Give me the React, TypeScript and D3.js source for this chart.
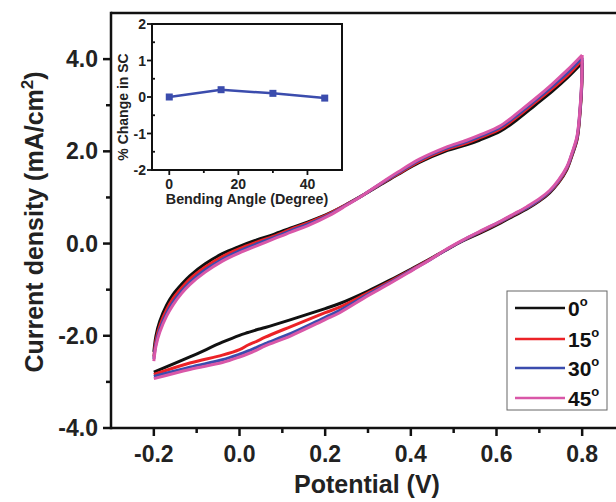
import React from "react";
import * as d3 from "d3";

// potential (V) sample points along each sweep
const anodicV = [-0.2, -0.195, -0.186, -0.17, -0.155, -0.135, -0.116, -0.08, -0.04, 0.0, 0.04, 0.08, 0.12, 0.16, 0.21, 0.25, 0.29, 0.33, 0.37, 0.42, 0.48, 0.53, 0.56, 0.61, 0.65, 0.69, 0.73, 0.765, 0.8];
const cathodicV = [0.8, 0.799, 0.795, 0.788, 0.776, 0.764, 0.745, 0.724, 0.7, 0.671, 0.64, 0.61, 0.56, 0.52, 0.48, 0.445, 0.405, 0.35, 0.3, 0.234, 0.2, 0.12, 0.06, 0.04, 0.02, 0.0, -0.04, -0.116, -0.2];

// current density (mA/cm2) for each bending angle
const anodic0 = [-2.35, -2.0, -1.68, -1.33, -1.1, -0.88, -0.7, -0.44, -0.22, -0.06, 0.08, 0.2, 0.34, 0.47, 0.66, 0.85, 1.06, 1.28, 1.5, 1.76, 2.0, 2.14, 2.24, 2.44, 2.7, 3.0, 3.3, 3.59, 3.92];
const anodic15 = [-2.45, -2.1, -1.78, -1.43, -1.19, -0.96, -0.77, -0.51, -0.28, -0.11, 0.03, 0.16, 0.31, 0.45, 0.65, 0.85, 1.06, 1.29, 1.51, 1.78, 2.03, 2.18, 2.29, 2.49, 2.76, 3.06, 3.36, 3.64, 3.98];
const anodic30 = [-2.5, -2.17, -1.86, -1.51, -1.27, -1.03, -0.84, -0.57, -0.34, -0.16, -0.01, 0.13, 0.28, 0.42, 0.63, 0.84, 1.06, 1.3, 1.53, 1.81, 2.06, 2.21, 2.32, 2.53, 2.8, 3.1, 3.41, 3.7, 4.03];
const anodic45 = [-2.55, -2.22, -1.92, -1.57, -1.33, -1.08, -0.89, -0.62, -0.38, -0.2, -0.05, 0.1, 0.25, 0.39, 0.61, 0.83, 1.06, 1.31, 1.55, 1.83, 2.08, 2.24, 2.35, 2.56, 2.84, 3.14, 3.46, 3.76, 4.09];

const cathodic0 = [3.92, 3.4, 2.83, 2.25, 1.9, 1.6, 1.32, 1.1, 0.92, 0.75, 0.6, 0.45, 0.22, 0.05, -0.15, -0.33, -0.53, -0.8, -1.03, -1.3, -1.41, -1.65, -1.82, -1.87, -1.93, -1.99, -2.14, -2.46, -2.79];
const cathodic15 = [3.98, 3.45, 2.86, 2.27, 1.92, 1.62, 1.34, 1.12, 0.94, 0.77, 0.62, 0.47, 0.24, 0.06, -0.15, -0.34, -0.55, -0.83, -1.07, -1.38, -1.5, -1.8, -2.03, -2.12, -2.2, -2.3, -2.42, -2.59, -2.84];
const cathodic30 = [4.03, 3.5, 2.9, 2.3, 1.94, 1.64, 1.36, 1.13, 0.95, 0.78, 0.63, 0.48, 0.25, 0.06, -0.15, -0.35, -0.56, -0.85, -1.1, -1.45, -1.6, -1.95, -2.17, -2.25, -2.33, -2.4, -2.52, -2.68, -2.88];
const cathodic45 = [4.09, 3.55, 2.93, 2.33, 1.96, 1.66, 1.38, 1.15, 0.97, 0.8, 0.64, 0.49, 0.26, 0.07, -0.14, -0.35, -0.57, -0.87, -1.13, -1.5, -1.65, -2.0, -2.22, -2.31, -2.39, -2.46, -2.58, -2.73, -2.93];

const angles = ["0", "15", "30", "45"];
const colors = ["#111111", "#ec2227", "#3b4cad", "#d957a8"];
const anodic = [anodic0, anodic15, anodic30, anodic45];
const cathodic = [cathodic0, cathodic15, cathodic30, cathodic45];

// main axis ticks
const xMajor = [-0.2, 0, 0.2, 0.4, 0.6, 0.8];
const xMinor = [-0.1, 0.1, 0.3, 0.5, 0.7];
const yMajor = [-4, -2, 0, 2, 4];
const yMinor = [-3, -1, 1, 3];

// inset data
const insetAngle = [0, 15, 30, 45];
const insetChange = [0, 0.2, 0.1, -0.03];
const insetXMajor = [0, 20, 40];
const insetXMinor = [10, 30];
const insetYMajor = [-2, -1, 0, 1, 2];
const insetYMinor = [-1.5, -0.5, 0.5, 1.5];

const font = "'Liberation Sans', Arial, sans-serif";

export default function App() {
  const x = d3.scaleLinear().domain([-0.3, 0.9]).range([111, 625]);
  const y = d3.scaleLinear().domain([-4, 5]).range([428, 13]);

  const ix = d3.scaleLinear().domain([-5, 50]).range([152, 342]);
  const iy = d3.scaleLinear().domain([-2, 2]).range([170, 24]);

  const line = d3
    .line<[number, number]>()
    .x((d) => x(d[0]))
    .y((d) => y(d[1]))
    .curve(d3.curveCatmullRom.alpha(0.5));

  const insetLine = d3
    .line<number>()
    .x((_, i) => ix(insetAngle[i]))
    .y((d) => iy(d));

  const fmt = (t: number) => t.toFixed(1);
  const legendY = [308, 339, 368, 398];

  return (
    <svg
      width={616}
      height={502}
      style={{ position: "absolute", left: 0, top: 0, background: "#fff" }}
      fontFamily={font}
      fontWeight="bold"
    >
      <rect width={616} height={502} fill="#fff" />

      {/* curves */}
      {angles.map((a, k) => (
        <g key={a} fill="none" stroke={colors[k]} strokeWidth={3} strokeLinejoin="round">
          <path d={line(anodicV.map((v, i) => [v, anodic[k][i]]))!} />
          <path d={line(cathodicV.map((v, i) => [v, cathodic[k][i]]))!} />
        </g>
      ))}

      {/* main frame */}
      <g stroke="#111" strokeWidth={2.5} fill="none">
        <line x1={x(-0.3)} x2={x(0.9)} y1={y(-4)} y2={y(-4)} />
        <line x1={x(-0.3)} x2={x(0.9)} y1={y(5)} y2={y(5)} />
        <line x1={x(-0.3)} x2={x(-0.3)} y1={y(-4) + 1.25} y2={y(5) - 1.25} />
      </g>

      {/* ticks */}
      <g stroke="#111" strokeWidth={2.5}>
        {xMajor.map((t) => (
          <line key={t} x1={x(t)} x2={x(t)} y1={y(-4)} y2={y(-4) + 8} />
        ))}
        {xMinor.map((t) => (
          <line key={t} x1={x(t)} x2={x(t)} y1={y(-4)} y2={y(-4) + 5} />
        ))}
        {yMajor.map((t) => (
          <line key={t} x1={x(-0.3)} x2={x(-0.3) - 8} y1={y(t)} y2={y(t)} />
        ))}
        {yMinor.map((t) => (
          <line key={t} x1={x(-0.3)} x2={x(-0.3) - 5} y1={y(t)} y2={y(t)} />
        ))}
      </g>
      <g fontSize={23} fill="#222">
        {xMajor.map((t) => (
          <text key={t} x={x(t)} y={462} textAnchor="middle">
            {fmt(t)}
          </text>
        ))}
        {yMajor.map((t) => (
          <text key={t} x={98} y={y(t) + 8} textAnchor="end">
            {fmt(t)}
          </text>
        ))}
      </g>

      {/* axis titles */}
      <text x={367} y={493} textAnchor="middle" fontSize={25} fill="#222">
        Potential (V)
      </text>
      <text
        transform={`translate(43,${222}) rotate(-90)`}
        textAnchor="middle"
        fontSize={25}
        fill="#222"
      >
        Current density (mA/cm
        <tspan fontSize={17} dy={-10}>2</tspan>
        <tspan dy={10}>)</tspan>
      </text>

      {/* legend */}
      <rect x={507} y={291} width={100} height={119} fill="#fff" stroke="#666" strokeWidth={1} />
      {angles.map((a, k) => (
        <g key={a}>
          <line x1={515} x2={565} y1={legendY[k]} y2={legendY[k]} stroke={colors[k]} strokeWidth={2.5} />
          <text x={568} y={legendY[k] + 8} fontSize={21} fill="#111">
            {a}
            <tspan fontSize={13} dy={-10}>o</tspan>
          </text>
        </g>
      ))}

      {/* inset */}
      <rect x={152} y={24} width={190} height={146} fill="#fff" stroke="#111" strokeWidth={2} />
      <g stroke="#111" strokeWidth={1.8}>
        {insetXMajor.map((t) => (
          <line key={t} x1={ix(t)} x2={ix(t)} y1={170} y2={175} />
        ))}
        {insetXMinor.map((t) => (
          <line key={t} x1={ix(t)} x2={ix(t)} y1={170} y2={173} />
        ))}
        {insetYMajor.map((t) => (
          <line key={t} x1={152} x2={147} y1={iy(t)} y2={iy(t)} />
        ))}
        {insetYMinor.map((t) => (
          <line key={t} x1={152} x2={155} y1={iy(t)} y2={iy(t)} />
        ))}
      </g>
      <g fontSize={14} fill="#222">
        {insetXMajor.map((t) => (
          <text key={t} x={ix(t)} y={189} textAnchor="middle">
            {t}
          </text>
        ))}
        {insetYMajor.map((t) => (
          <text key={t} x={146} y={iy(t) + 5} textAnchor="end">
            {t}
          </text>
        ))}
      </g>
      <text x={247} y={204} textAnchor="middle" fontSize={14.3} fill="#222">
        Bending Angle (Degree)
      </text>
      <text transform="translate(128,107) rotate(-90)" textAnchor="middle" fontSize={14} fill="#222">
        % Change in SC
      </text>
      <path d={insetLine(insetChange)!} fill="none" stroke="#3b4cad" strokeWidth={2.5} />
      {insetChange.map((c, i) => (
        <rect key={i} x={ix(insetAngle[i]) - 3.5} y={iy(c) - 3.5} width={7} height={7} fill="#3b4cad" />
      ))}
    </svg>
  );
}
